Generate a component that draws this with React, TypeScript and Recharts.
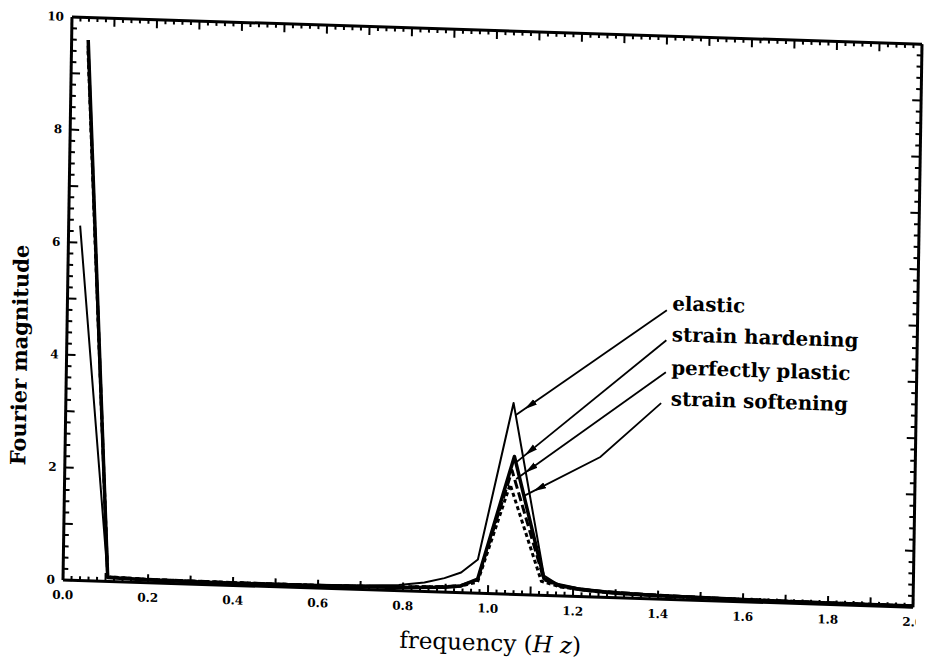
import React from 'react';
import { LineChart, Line, XAxis, YAxis, ReferenceDot, ReferenceLine } from 'recharts';

// Axis tick labels and tick spacing
const X_LABEL_TICKS = [0, 0.2, 0.4, 0.6, 0.8, 1.0, 1.2, 1.4, 1.6, 1.8, 2.0];
const Y_LABEL_TICKS = [0, 2, 4, 6, 8, 10];
const X_MINOR_STEP = 0.02;
const Y_MINOR_STEP = 0.2;

// Fourier magnitude spectra (frequency in Hz)
const elasticFreq = [0.027, 0.105, 0.2, 0.3, 0.4, 0.5, 0.6, 0.7, 0.79, 0.85, 0.897, 0.936, 0.975, 1.053, 1.131, 1.16, 1.21, 1.27, 1.34, 1.42, 1.55, 1.7, 1.85, 2.0];
const elasticMag = [6.3, 0.08, 0.06, 0.05, 0.05, 0.05, 0.06, 0.07, 0.1, 0.16, 0.25, 0.36, 0.6, 3.4, 0.35, 0.22, 0.15, 0.11, 0.09, 0.07, 0.05, 0.04, 0.03, 0.02];

const hardeningFreq = [0.039, 0.105, 0.2, 0.4, 0.6, 0.8, 0.9, 0.936, 0.975, 1.057, 1.131, 1.17, 1.22, 1.3, 1.4, 1.5, 1.7, 2.0];
const hardeningMag = [9.6, 0.07, 0.05, 0.04, 0.04, 0.06, 0.09, 0.12, 0.25, 2.45, 0.3, 0.18, 0.12, 0.08, 0.06, 0.05, 0.03, 0.02];

const plasticFreq = [0.039, 0.105, 0.2, 0.4, 0.6, 0.8, 0.9, 0.936, 0.975, 1.052, 1.131, 1.17, 1.25, 1.35, 1.45, 1.6, 1.8, 2.0];
const plasticMag = [9.5, 0.08, 0.06, 0.05, 0.05, 0.07, 0.1, 0.13, 0.24, 2.2, 0.28, 0.17, 0.11, 0.08, 0.06, 0.04, 0.03, 0.02];

const softeningFreq = [0.039, 0.105, 0.2, 0.4, 0.6, 0.8, 0.9, 0.936, 0.975, 1.048, 1.125, 1.17, 1.25, 1.35, 1.45, 1.6, 1.8, 2.0];
const softeningMag = [9.4, 0.08, 0.06, 0.05, 0.05, 0.07, 0.1, 0.12, 0.2, 1.95, 0.25, 0.16, 0.1, 0.07, 0.05, 0.04, 0.03, 0.02];

// Annotation leader lines (frequency, magnitude), text end first, arrow end last
const elasticLeaderFreq = [1.41, 1.058];
const elasticLeaderMag = [5.13, 3.18];
const hardeningLeaderFreq = [1.41, 1.062];
const hardeningLeaderMag = [4.6, 2.35];
const plasticLeaderFreq = [1.41, 1.062];
const plasticLeaderMag = [4.03, 2.05];
const softeningLeaderFreq = [1.40, 1.259, 1.08];
const softeningLeaderMag = [3.48, 2.49, 1.75];

// Annotation texts and where they start
const annotationNames = ['elastic', 'strain hardening', 'perfectly plastic', 'strain softening'];
const annotationFreq = [1.418, 1.418, 1.418, 1.418];
const annotationMag = [5.26, 4.71, 4.12, 3.57];

const toPoints = (xs: number[], ys: number[]) => xs.map((f, i) => ({ f, m: ys[i] }));

const xTicks = Array.from({ length: Math.round(2 / X_MINOR_STEP) + 1 }, (_, i) => Math.round(i * X_MINOR_STEP * 100) / 100);
const yTicks = Array.from({ length: Math.round(10 / Y_MINOR_STEP) + 1 }, (_, i) => Math.round(i * Y_MINOR_STEP * 10) / 10);

const isLabelled = (v: number, list: number[]) => list.some((t) => Math.abs(t - v) < 1e-6);
const isWhole = (v: number, scale: number) => Math.abs(v * scale - Math.round(v * scale)) < 1e-6;

// Inward tick lengths, in axis units (one unit of magnitude is ~56px, one Hz ~425px)
const X_TICK_LONG = 0.15;
const X_TICK_SHORT = 0.075;
const Y_TICK_LONG = 0.021;
const Y_TICK_SHORT = 0.012;

const TICK_FONT = { fontFamily: 'DejaVu Serif', fontWeight: 700, fontSize: 12, fill: '#000' };
const INK = '#000';

const BottomLabel = (props: any) => {
  const { x, y, payload } = props;
  const v = Number(payload.value);
  if (!isLabelled(v, X_LABEL_TICKS)) return <g />;
  return (
    <text x={x} y={Number(y) + 19} textAnchor="middle" {...TICK_FONT}>
      {v.toFixed(1)}
    </text>
  );
};

const LeftLabel = (props: any) => {
  const { x, y, payload } = props;
  const v = Number(payload.value);
  if (!isLabelled(v, Y_LABEL_TICKS)) return <g />;
  return (
    <text x={Number(x) - 8} y={Number(y) + 4} textAnchor="end" {...TICK_FONT}>
      {String(v)}
    </text>
  );
};

const XTitle = (props: any) => {
  const { viewBox } = props;
  const cx = viewBox.x + viewBox.width / 2 + 3;
  const y = viewBox.y + 57;
  return (
    <text x={cx} y={y} textAnchor="middle" fontFamily="DejaVu Serif" fontSize={23} fill={INK}>
      frequency (<tspan fontStyle="italic">H z</tspan>)
    </text>
  );
};

const YTitle = (props: any) => {
  const { viewBox } = props;
  const x = viewBox.x + 25;
  const y = viewBox.y + viewBox.height / 2 + 58;
  return (
    <text
      x={x}
      y={y}
      transform={`rotate(-90 ${x} ${y})`}
      textAnchor="middle"
      dominantBaseline="central"
      fontFamily="DejaVu Serif"
      fontWeight={700}
      fontSize={21}
      fill={INK}
    >
      Fourier magnitude
    </text>
  );
};

const series = [
  { key: 'elastic', data: toPoints(elasticFreq, elasticMag), width: 2, dash: undefined },
  { key: 'softening', data: toPoints(softeningFreq, softeningMag), width: 3, dash: '4 3' },
  { key: 'plastic', data: toPoints(plasticFreq, plasticMag), width: 3, dash: '9 4' },
  { key: 'hardening', data: toPoints(hardeningFreq, hardeningMag), width: 3.5, dash: undefined },
];

const leaders = [
  toPoints(elasticLeaderFreq, elasticLeaderMag),
  toPoints(hardeningLeaderFreq, hardeningLeaderMag),
  toPoints(plasticLeaderFreq, plasticLeaderMag),
  toPoints(softeningLeaderFreq, softeningLeaderMag),
];

const axisIds = { xAxisId: 'b', yAxisId: 'l' };

export default function App() {
  return (
    <div
      style={{
        position: 'absolute',
        left: 0,
        top: 0,
        width: 925,
        height: 662,
        background: '#fff',
        transform: 'matrix(1, 0.032, -0.016, 1, 0, 0)',
        transformOrigin: '72px 17px',
      }}
    >
      <svg width={0} height={0} style={{ position: 'absolute' }}>
        <defs>
          <marker
            id="leaderArrow"
            markerWidth={14}
            markerHeight={8}
            refX={24}
            refY={4}
            orient="auto"
            markerUnits="userSpaceOnUse"
          >
            <path d="M0,0.8 L13,4 L0,7.2 z" fill={INK} />
          </marker>
        </defs>
      </svg>
      <LineChart width={925} height={662} margin={{ top: 17, right: 3, bottom: 0, left: 0 }}>
        <XAxis
          xAxisId="b"
          dataKey="f"
          type="number"
          domain={[0, 2]}
          allowDataOverflow
          ticks={xTicks}
          interval={0}
          height={82}
          tickSize={0}
          tickMargin={0}
          tickLine={false}
          tick={<BottomLabel />}
          axisLine={{ stroke: INK, strokeWidth: 3 }}
          label={{ content: XTitle }}
        />
        <YAxis
          yAxisId="l"
          type="number"
          domain={[0, 10]}
          allowDataOverflow
          ticks={yTicks}
          interval={0}
          width={72}
          tickSize={0}
          tickMargin={0}
          tickLine={false}
          tick={<LeftLabel />}
          axisLine={{ stroke: INK, strokeWidth: 3 }}
          label={{ content: YTitle }}
        />

        {/* top and right frame */}
        <ReferenceLine {...axisIds} y={10} stroke={INK} strokeWidth={3} ifOverflow="visible" />
        <ReferenceLine {...axisIds} x={2} stroke={INK} strokeWidth={3} ifOverflow="visible" />

        {/* inward tick marks on all four sides */}
        {xTicks.map((v) => {
          const len = isWhole(v, 10) ? X_TICK_LONG : X_TICK_SHORT;
          return (
            <ReferenceLine
              key={`xb-${v}`}
              {...axisIds}
              segment={[{ x: v, y: 0 }, { x: v, y: len }]}
              stroke={INK}
              strokeWidth={2}
              ifOverflow="visible"
            />
          );
        })}
        {xTicks.map((v) => {
          const len = isWhole(v, 10) ? X_TICK_LONG : X_TICK_SHORT;
          return (
            <ReferenceLine
              key={`xt-${v}`}
              {...axisIds}
              segment={[{ x: v, y: 10 }, { x: v, y: 10 - len }]}
              stroke={INK}
              strokeWidth={2}
              ifOverflow="visible"
            />
          );
        })}
        {yTicks.map((v) => {
          const len = isWhole(v, 1) ? Y_TICK_LONG : Y_TICK_SHORT;
          return (
            <ReferenceLine
              key={`yl-${v}`}
              {...axisIds}
              segment={[{ x: 0, y: v }, { x: len, y: v }]}
              stroke={INK}
              strokeWidth={2}
              ifOverflow="visible"
            />
          );
        })}
        {yTicks.map((v) => {
          const len = isWhole(v, 1) ? Y_TICK_LONG : Y_TICK_SHORT;
          return (
            <ReferenceLine
              key={`yr-${v}`}
              {...axisIds}
              segment={[{ x: 2, y: v }, { x: 2 - len, y: v }]}
              stroke={INK}
              strokeWidth={2}
              ifOverflow="visible"
            />
          );
        })}

        {series.map((s) => (
          <Line
            key={s.key}
            data={s.data}
            dataKey="m"
            {...axisIds}
            type="linear"
            stroke={INK}
            strokeWidth={s.width}
            strokeDasharray={s.dash}
            strokeLinejoin="round"
            dot={false}
            activeDot={false}
            isAnimationActive={false}
          />
        ))}
        {leaders.map((d, i) => (
          <Line
            key={`leader-${i}`}
            data={d}
            dataKey="m"
            {...axisIds}
            type="linear"
            stroke={INK}
            strokeWidth={1.8}
            markerEnd="url(#leaderArrow)"
            dot={false}
            activeDot={false}
            isAnimationActive={false}
          />
        ))}
        {annotationNames.map((name, i) => (
          <ReferenceDot
            key={name}
            x={annotationFreq[i]}
            y={annotationMag[i]}
            {...axisIds}
            r={0}
            fill="none"
            stroke="none"
            ifOverflow="visible"
            label={{
              value: name,
              position: 'right',
              offset: 2,
              fill: INK,
              fontFamily: 'DejaVu Serif',
              fontWeight: 700,
              fontSize: 19.8,
            }}
          />
        ))}
      </LineChart>
    </div>
  );
}
